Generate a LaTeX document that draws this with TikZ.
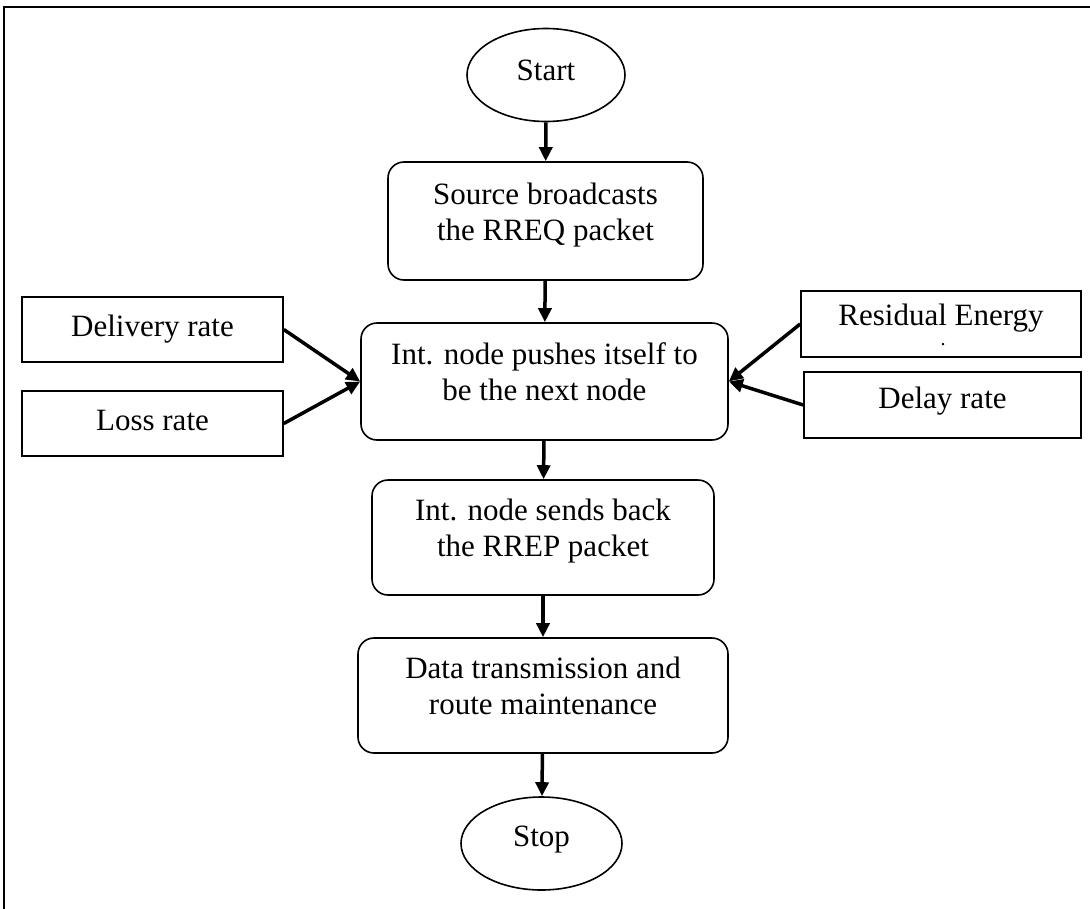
\documentclass[tikz,border=0pt]{standalone}
\usepackage{fontspec}
\setmainfont{Liberation Serif}
\usetikzlibrary{arrows.meta, shapes.geometric, positioning}
\tikzset{>={Triangle[length=14pt,width=13pt]}}

\begin{document}
\begin{tikzpicture}[x=1pt, y=-1pt, font=\fontsize{31}{36}\selectfont,
	stepbox/.style={draw, line width=1.6pt, rounded corners=16pt, align=center, inner sep=0pt, text height=58pt, text depth=20pt},
	factor/.style={draw, line width=1.6pt, align=center, inner sep=0pt, text height=21pt, text depth=7pt},
	term/.style={draw, ellipse, line width=1.6pt, inner sep=0pt, text height=21pt},
	flow/.style={->, line width=3.5pt}]
		\useasboundingbox (0,0) rectangle (1090,908);
		\draw [line width=2.5pt] (4,7) rectangle (1100,920);
		% main flow
		\node [term, minimum width=158pt, minimum height=93pt, text depth=10pt] (start) at (546,75) {Start};
		\node [stepbox, minimum width=315pt, minimum height=118pt] (src) at (545.5,221) {Source broadcasts\\the RREQ packet};
		\node [stepbox, minimum width=367pt, minimum height=117pt] (push) at (544.5,381.5) {Int. node pushes itself to\\be the next node};
		\node [stepbox, minimum width=342pt, minimum height=115pt] (rrep) at (543,537.5) {Int. node sends back\\the RREP packet};
		\node [stepbox, minimum width=370pt, minimum height=115pt] (data) at (543,695.5) {Data transmission and\\route maintenance};
		\node [term, minimum width=161pt, minimum height=93pt, text depth=15pt] (stop) at (541.5,843.5) {Stop};
		% metrics
		\node [factor, minimum width=261pt, minimum height=65pt] (delivery) at (152.5,329.5) {Delivery rate};
		\node [factor, minimum width=261pt, minimum height=65pt] (loss) at (152.5,423.5) {Loss rate};
		\node [factor, minimum width=280pt, minimum height=66pt, text depth=19pt] (energy) at (941,324) {Residual Energy};
		\node [factor, minimum width=277pt, minimum height=66pt, text depth=15pt] (delay) at (942.5,405) {Delay rate};
		\node [font=\fontsize{20}{20}\selectfont, inner sep=0pt] (energydot) at (943,345) {.};
		% connectors
		\draw [flow] (start) -- (src);
		\draw [flow] (src) -- (push);
		\draw [flow] (push) -- (rrep);
		\draw [flow] (rrep) -- (data);
		\draw [flow] (data) -- (stop);
		\draw [flow] (delivery.east) -- (push.west);
		\draw [flow] (loss.east) -- (push.west);
		\draw [flow] (energy.west) -- (push.east);
		\draw [flow] (delay.west) -- (push.east);
		\end{tikzpicture}
\end{document}
